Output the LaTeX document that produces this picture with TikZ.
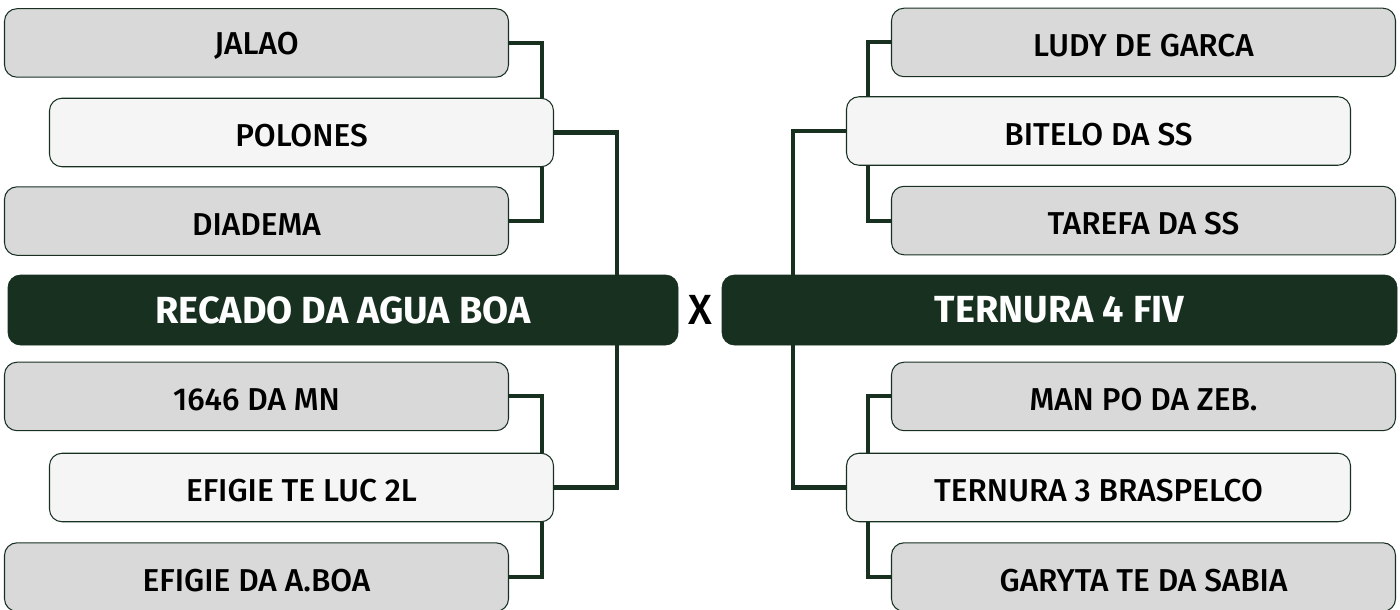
\documentclass[tikz,border=0pt]{standalone}
\usepackage{fontspec}
\setmainfont{Fira Sans}[UprightFont={* Medium},BoldFont={* Bold}]
\usepackage{tikz}
\usetikzlibrary{positioning}

\definecolor{darkgreen}{HTML}{173020}
\definecolor{boxgray}{HTML}{D9D9D9}
\definecolor{boxlight}{HTML}{F5F5F5}

\tikzset{
  entry/.style={draw=darkgreen,line width=0.6pt,rounded corners=0.25cm,fill=boxgray,
    minimum width=10.08cm,minimum height=1.37cm,inner sep=0pt,text height=0.58cm,
    font=\fontsize{18}{20}\selectfont},
  winner/.style={entry,fill=boxlight},
  finalist/.style={draw=darkgreen,fill=darkgreen,rounded corners=0.25cm,minimum height=1.4cm,
    inner sep=0pt,text=white,font=\fontsize{21.5}{24}\bfseries},
  link/.style={darkgreen,line width=2.3pt}
}

\begin{document}
\begin{tikzpicture}
        \useasboundingbox (0,0) rectangle (28,-12.18);
        % finalists
        \node[finalist,minimum width=13.4cm] (recado) at (6.86,-6.2) {RECADO DA AGUA BOA};
        \node[finalist,minimum width=13.5cm] (ternura) at (21.19,-6.2) {TERNURA 4 FIV};
        \node (versus) at (14.0,-6.2) {\fontsize{24}{26}\fontseries{l}\selectfont X};
        % left bracket
        \node[winner] (polones) at (6.03,-2.65) {POLONES};
        \node[entry,above = 0.4cm of polones,xshift=-0.9cm] (jalao) {JALAO};
        \node[entry,below = 0.38cm of polones,xshift=-0.9cm] (diadema) {DIADEMA};
        \node[winner] (efigieluc) at (6.03,-9.75) {EFIGIE TE LUC 2L};
        \node[entry,above = 0.43cm of efigieluc,xshift=-0.9cm] (mn) {1646 DA MN};
        \node[entry,below = 0.4cm of efigieluc,xshift=-0.9cm] (efigieboa) {EFIGIE DA A.BOA};
        % right bracket
        \node[winner] (bitelo) at (21.97,-2.62) {BITELO DA SS};
        \node[entry,above = 0.38cm of bitelo,xshift=0.9cm] (ludy) {LUDY DE GARCA};
        \node[entry,below = 0.4cm of bitelo,xshift=0.9cm] (tarefa) {TAREFA DA SS};
        \node[winner] (ternura3) at (21.97,-9.75) {TERNURA 3 BRASPELCO};
        \node[entry,above = 0.43cm of ternura3,xshift=0.9cm] (manpo) {MAN PO DA ZEB.};
        \node[entry,below = 0.4cm of ternura3,xshift=0.9cm] (garyta) {GARYTA TE DA SABIA};
        % connectors
        \draw[link] (jalao.east) -| ([xshift=-0.24cm]polones.north east);
        \draw[link] (diadema.east) -| ([xshift=-0.24cm]polones.south east);
        \draw[link] (polones.east) -| ([xshift=-1.22cm]recado.north east);
        \draw[link] (mn.east) -| ([xshift=-0.24cm]efigieluc.north east);
        \draw[link] (efigieboa.east) -| ([xshift=-0.24cm]efigieluc.south east);
        \draw[link] (efigieluc.east) -| ([xshift=-1.22cm]recado.south east);
        \draw[link] (ludy.west) -| ([xshift=0.44cm]bitelo.north west);
        \draw[link] (tarefa.west) -| ([xshift=0.44cm]bitelo.south west);
        \draw[link] (bitelo.west) -| ([xshift=1.42cm]ternura.north west);
        \draw[link] (manpo.west) -| ([xshift=0.44cm]ternura3.north west);
        \draw[link] (garyta.west) -| ([xshift=0.44cm]ternura3.south west);
        \draw[link] (ternura3.west) -| ([xshift=1.42cm]ternura.south west);
      \end{tikzpicture}
\end{document}
